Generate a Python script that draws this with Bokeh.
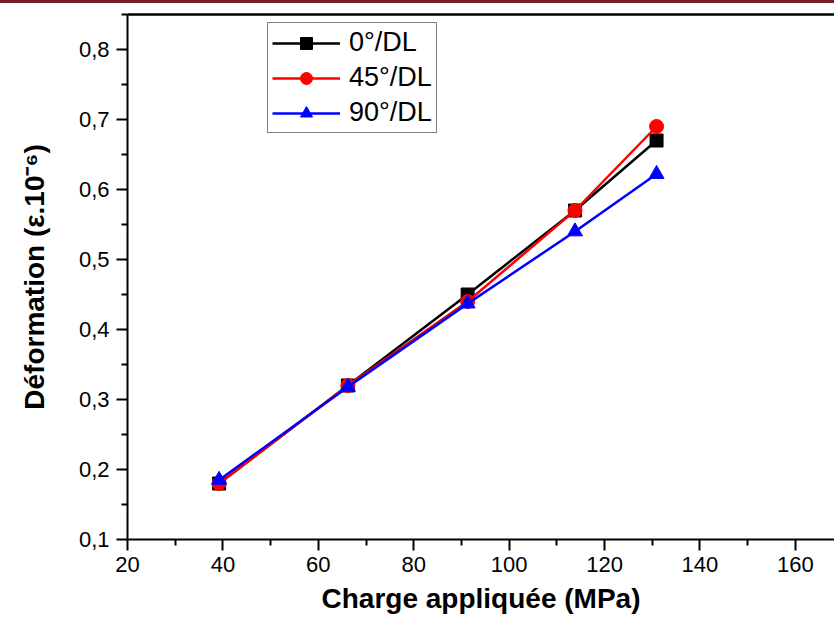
from bokeh.plotting import figure
from bokeh.layouts import column
from bokeh.models import (FixedTicker, CustomJSTickFormatter, Legend,
                          LegendItem, Range1d, Div, LinearAxis)
from bokeh.embed import file_html
from bokeh.resources import INLINE

# ---- data ----
charge = [39.2, 66.2, 91.3, 113.8, 130.9]
def_0 = [0.18, 0.32, 0.45, 0.57, 0.67]
def_45 = [0.18, 0.32, 0.44, 0.57, 0.69]
def_90 = [0.185, 0.318, 0.437, 0.54, 0.622]
series_names = ["0°/DL", "45°/DL", "90°/DL"]
x_ticks = [20, 40, 60, 80, 100, 120, 140, 160]
x_minor = [30, 50, 70, 90, 110, 130, 150, 170]
y_ticks = [0.1, 0.2, 0.3, 0.4, 0.5, 0.6, 0.7, 0.8]
y_minor = [0.15, 0.25, 0.35, 0.45, 0.55, 0.65, 0.75, 0.85]

FONT = "Liberation Sans"

p = figure(width=834, height=618,
           x_range=Range1d(20, 168.2), y_range=Range1d(0.1, 0.85),
           output_backend="svg", toolbar_location=None,
           x_axis_location=None, y_axis_location=None,
           min_border_left=127, min_border_top=11, min_border_right=0,
           min_border_bottom=82)
p.outline_line_color = None
p.xgrid.visible = False
p.ygrid.visible = False
p.background_fill_color = "white"
p.border_fill_color = "white"

bottom = LinearAxis(ticker=FixedTicker(ticks=x_ticks, minor_ticks=x_minor),
                    formatter=CustomJSTickFormatter(
                        code="return tick.toFixed(0);"),
                    axis_label="Charge appliquée (MPa)")
left = LinearAxis(ticker=FixedTicker(ticks=y_ticks, minor_ticks=y_minor),
                  formatter=CustomJSTickFormatter(
                      code="return tick.toFixed(1).replace('.', ',');"),
                  axis_label="Déformation (ε.10⁻⁶)")
for ax in (bottom, left):
    ax.axis_line_width = 2
    ax.major_tick_line_width = 2
    ax.minor_tick_line_width = 2
    ax.major_tick_in = 0
    ax.major_tick_out = 11
    ax.minor_tick_in = 0
    ax.minor_tick_out = 6
    ax.major_label_text_font = FONT
    ax.major_label_text_font_size = "22px"
    ax.major_label_text_color = "black"
    ax.axis_label_text_font = FONT
    ax.axis_label_text_font_style = "bold"
    ax.axis_label_text_font_size = "28px"
    ax.axis_label_text_color = "black"
bottom.major_label_standoff = 6
bottom.axis_label_standoff = 8
left.major_label_standoff = 7
left.axis_label_standoff = 26
p.add_layout(bottom, "below")
p.add_layout(left, "left")

# top frame line as a bare axis
top_axis = LinearAxis(ticker=FixedTicker(ticks=[]), major_tick_out=0,
                      major_tick_in=0, minor_tick_out=0, minor_tick_in=0,
                      axis_line_width=2.5, axis_line_color="black")
p.add_layout(top_axis, "above")

lw = 2.5
l0 = p.line(charge, def_0, line_color="black", line_width=lw)
m0 = p.scatter(charge, def_0, marker="square", size=13, fill_color="black",
               line_color="black")
l1 = p.line(charge, def_45, line_color="red", line_width=lw)
m1 = p.scatter(charge, def_45, marker="circle", size=14, fill_color="red",
               line_color="red")
l2 = p.line(charge, def_90, line_color="blue", line_width=lw)
m2 = p.scatter(charge, def_90, marker="triangle", size=15, fill_color="blue",
               line_color="blue")

legend = Legend(items=[
    LegendItem(label=series_names[0], renderers=[l0, m0]),
    LegendItem(label=series_names[1], renderers=[l1, m1]),
    LegendItem(label=series_names[2], renderers=[l2, m2]),
], location=(140, 406))
legend.label_text_font = FONT
legend.label_text_font_size = "27px"
legend.label_text_color = "black"
legend.glyph_width = 68
legend.glyph_height = 30
legend.label_height = 30
legend.label_standoff = 9
legend.spacing = 4
legend.padding = 4
legend.margin = 0
legend.border_line_color = "black"
legend.border_line_width = 1
legend.background_fill_alpha = 1
p.add_layout(legend, "center")

rule = Div(text="", width=834, height=3, margin=0,
           styles={"background-color": "#6E2127"})
layout = column(rule, p, spacing=0)

with open("out.html", "w") as f:
    f.write(file_html(layout, INLINE))
